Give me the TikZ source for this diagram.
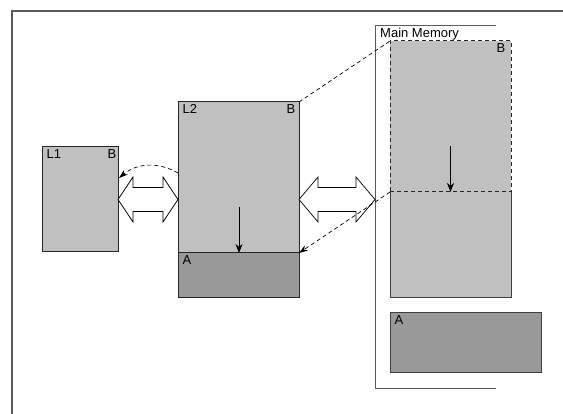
\documentclass[tikz,border=0pt]{standalone}
\usepackage{fontspec}
\setmainfont{Liberation Sans}
\usetikzlibrary{arrows.meta, positioning, calc}
\definecolor{lightcell}{RGB}{192, 192, 192}
\definecolor{darkcell}{RGB}{153, 153, 153}
\definecolor{framegray}{RGB}{90, 90, 90}

\begin{document}
\begin{tikzpicture}[x=1pt, y=-1pt,
        % Set global font size for consistency
        font=\fontsize{13}{15}\selectfont,
        % Define reusable styles for different elements of the picture
        cell/.style={draw=black!85, line width=1pt, inner sep=0pt, outer sep=0pt, anchor=north west},
        lightcell/.style={cell, fill=lightcell},
        darkcell/.style={cell, fill=darkcell},
        tag/.style={inner xsep=4.5pt, inner ysep=2pt},
        move/.style={-{Stealth[length=9pt, width=7pt]}, line width=0.8pt},
        copyline/.style={dash pattern=on 4pt off 3pt, line width=0.7pt},
        fatarrow/.style={draw=black, fill=white, line width=0.7pt, line join=miter},
        bracket/.style={draw=framegray, line width=1.3pt}
    ]

    \useasboundingbox (0,0) rectangle (563,414);
    \draw[bracket] (563,11) -- (12,11) -- (12,414);

    % Caches
    \node[lightcell, minimum width=76pt, minimum height=105pt] (l1) at (42,147) {};
    \node[lightcell, minimum width=121pt, minimum height=151pt] (l2b) at (178,102) {};
    \node[darkcell, minimum width=121pt, minimum height=45pt] (l2a) at (178,253) {};

    % Main memory
    \draw[bracket, line width=1pt] (496,26) -- (375,26) -- (375,389) -- (496,389);
    \coordinate (mmedge) at (375,199.5);
    \node[anchor=base west, inner sep=0pt] (mmname) at (380,38) {Main Memory};
    \node[cell, draw=none, fill=lightcell, minimum width=121pt, minimum height=106pt] (mmlow) at (390,192) {};
    \draw[line width=1pt, black!75] (mmlow.north west) -- (mmlow.south west) -- (mmlow.south east) -- (mmlow.north east);
    \node[lightcell, copyline, line width=1pt, minimum width=121pt, minimum height=151pt] (mmhigh) at (390,41) {};
    \node[darkcell, draw=black!75, minimum width=151pt, minimum height=60pt] (mma) at (390,313) {};

    % Labels
    \node[tag, anchor=north west] at (l1.north west) {L1};
    \node[tag, anchor=north east, inner xsep=1.5pt] at (l1.north east) {B};
    \node[tag, anchor=north west] at (l2b.north west) {L2};
    \node[tag, anchor=north east, inner xsep=3.5pt] at (l2b.north east) {B};
    \node[tag, anchor=north west] at (l2a.north west) {A};
    \node[tag, anchor=north east, inner xsep=5.5pt] at (mmhigh.north east) {B};
    \node[tag, anchor=north west] at (mma.north west) {A};

    % Transfers
    \draw[fatarrow] (l1.east) -- ++(15,-22.5) -- ++(0,10.5) -- ++(30,0) -- ++(0,-10.5)
        -- ++(15,22.5) -- ++(-15,22.5) -- ++(0,-10.5) -- ++(-30,0) -- ++(0,10.5) -- cycle;
    \draw[fatarrow] (l2b.east |- l1.east) -- ++(19,-22.5) -- ++(0,10.5) -- ++(38,0) -- ++(0,-10.5)
        -- (mmedge) -- ++(-19,22.5) -- ++(0,-10.5) -- ++(-38,0) -- ++(0,10.5) -- cycle;

    \coordinate (l2start) at (239,207);
    \coordinate (mmstart) at (450.5,146);
    \draw[move] (l2start) -- (l2a.north -| l2start);
    \draw[move] (mmstart) -- (mmhigh.south);

    \draw[copyline] (l2b.north east) -- (mmhigh.north west);
    \draw[copyline, -{Stealth[length=9pt, width=6pt]}] (mmhigh.south west) -- (l2b.south east);
    \draw[copyline, -{Stealth[length=9pt, width=6pt]}] ($(l2b.north west)+(0,71)$) to[bend right=35] ($(l1.north east)+(1,31)$);

\end{tikzpicture}
\end{document}
